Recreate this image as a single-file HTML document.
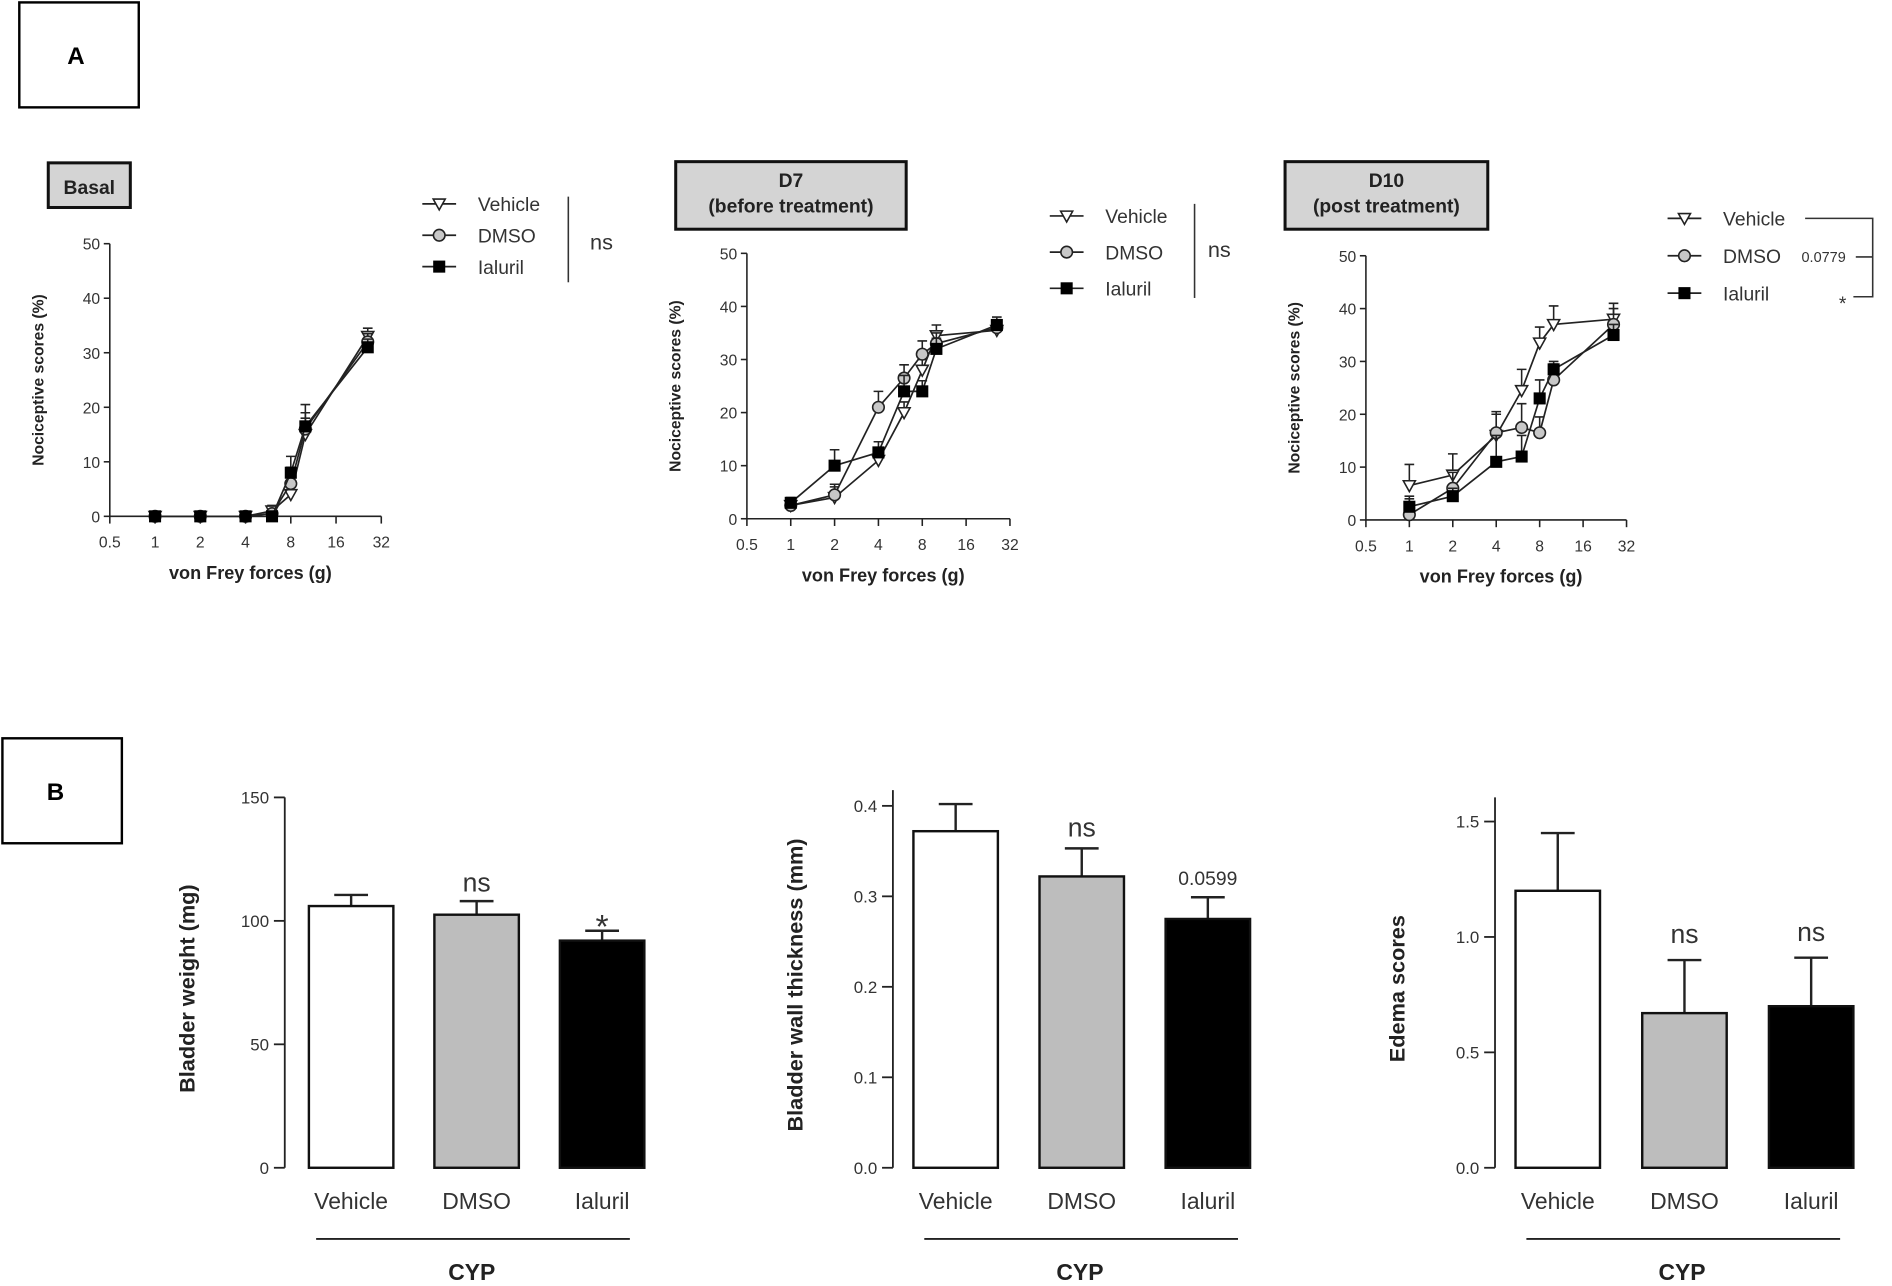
<!DOCTYPE html>
<html><head><meta charset="utf-8"><style>
html,body{margin:0;padding:0;background:#fff;}
svg{display:block;font-family:"Liberation Sans",Arial,sans-serif;}
</style></head><body>
<svg id="fig" width="1892" height="1286" viewBox="0 0 1568 1066" preserveAspectRatio="none">
<rect x="16" y="2" width="99" height="87" fill="#fff" stroke="#000" stroke-width="2"/>
<text x="63" y="53" font-size="20" font-weight="bold" text-anchor="middle">A</text>
<rect x="2" y="612" width="99" height="87" fill="#fff" stroke="#000" stroke-width="2"/>
<text x="46" y="663" font-size="20" font-weight="bold" text-anchor="middle">B</text>
<g id="lines"></g>
<g id="bars"></g>
</svg>
<script>
const forces = [1, 2, 4, 6, 8, 10, 26];
const basalVehicle = [0, 0, 0, 1, 4, 15, 33];
const basalVehicleErr = [0, 0, 0, 1, 1.5, 3, 1.5];
const basalDmso = [0, 0, 0, 0.5, 6, 16, 32];
const basalDmsoErr = [0, 0, 0, 0.5, 3, 3, 1.5];
const basalIaluril = [0, 0, 0, 0, 8, 16.5, 31];
const basalIalurilErr = [0, 0, 0, 0, 3, 4, 1.5];
const d7Vehicle = [2.5, 4, 11, 20, 28, 34.5, 35.5];
const d7VehicleErr = [1, 2, 2, 2, 2, 2, 1.5];
const d7Dmso = [2.5, 4.5, 21, 26.5, 31, 33, 36];
const d7DmsoErr = [1, 2, 3, 2.5, 2.5, 2, 1.5];
const d7Ialuril = [3, 10, 12.5, 24, 24, 32, 36.5];
const d7IalurilErr = [1, 3, 2, 3, 2, 2, 1.5];
const d10Vehicle = [6.5, 8.5, 16, 24.5, 33.5, 37, 38];
const d10VehicleErr = [4, 4, 4.5, 4, 3, 3.5, 3];
const d10Dmso = [1, 6, 16.5, 17.5, 16.5, 26.5, 37];
const d10DmsoErr = [3, 3, 3.5, 4.5, 3, 3, 3];
const d10Ialuril = [2.5, 4.5, 11, 12, 23, 28.5, 35];
const d10IalurilErr = [2, 1.5, 5, 4, 3.5, 1.5, 2];
const xTicks = [0.5, 1, 2, 4, 8, 16, 32];
const yTicksA = [0, 10, 20, 30, 40, 50];

const barCats = ["Vehicle", "DMSO", "Ialuril"];
const weightVals = [106, 102.5, 92];
const weightErr = [4.5, 5.5, 4];
const weightTicks = [0, 50, 100, 150];
const thickVals = [0.372, 0.322, 0.275];
const thickErr = [0.03, 0.031, 0.024];
const thickTicks = [0.0, 0.1, 0.2, 0.3, 0.4];
const edemaVals = [1.2, 0.67, 0.7];
const edemaErr = [0.25, 0.23, 0.21];
const edemaTicks = [0.0, 0.5, 1.0, 1.5];

const NS = "http://www.w3.org/2000/svg";
function mk(parent, tag, attrs, txt) {
  const e = document.createElementNS(NS, tag);
  for (const k in attrs) e.setAttribute(k, attrs[k]);
  if (txt !== undefined) e.textContent = txt;
  parent.appendChild(e);
  return e;
}
const L = document.getElementById('lines');
const B = document.getElementById('bars');

function marker(g, kind, x, y) {
  let m;
  if (kind === 'tri') m = mk(g, 'path', {d: `M${x-5},${y-4} L${x+5},${y-4} L${x},${y+5} Z`, fill: '#fff', stroke: '#222', 'stroke-width': 1.3});
  else if (kind === 'circ') m = mk(g, 'circle', {cx: x, cy: y, r: 4.8, fill: '#c8c8c8', stroke: '#222', 'stroke-width': 1.3});
  else m = mk(g, 'rect', {x: x-5, y: y-5, width: 10, height: 10, fill: '#000'});
  
  
}

function lineChart(cfg) {
  const g = mk(L, 'g', {});
  
  
  const xs = v => cfg.x0 + (Math.log2(v) + 1) * (cfg.x1 - cfg.x0) / 6;
  const ys = v => cfg.y0 - v * (cfg.y0 - cfg.y1) / 50;
  // title box
  const tb = mk(g, 'rect', {x: cfg.tb[0], y: cfg.tb[1], width: cfg.tb[2], height: cfg.tb[3], fill: '#d4d4d4', stroke: '#111', 'stroke-width': 2.5});
  
  
  cfg.title.forEach((t, i) => {
    const tt = mk(g, 'text', {x: cfg.tb[0] + cfg.tb[2]/2, y: cfg.tb[1] + (cfg.title.length === 1 ? 26 : 21 + i*21), 'font-size': 16, 'font-weight': 'bold', 'text-anchor': 'middle', fill: '#222'}, t);
    
    
  });
  // axes
  const ax = mk(g, 'path', {d: `M${cfg.x0},${cfg.y1} V${cfg.y0} H${cfg.x1}`, fill: 'none', stroke: '#222', 'stroke-width': 1.3});
  
  
  yTicksA.forEach(t => {
    mk(g, 'line', {x1: cfg.x0 - 5, x2: cfg.x0, y1: ys(t), y2: ys(t), stroke: '#222', 'stroke-width': 1.3});
    const tl = mk(g, 'text', {x: cfg.x0 - 8, y: ys(t) + 5, 'font-size': 13, 'text-anchor': 'end', fill: '#333'}, t);
    
    
  });
  xTicks.forEach(t => {
    mk(g, 'line', {x1: xs(t), x2: xs(t), y1: cfg.y0, y2: cfg.y0 + 6, stroke: '#222', 'stroke-width': 1.3});
    const tl = mk(g, 'text', {x: xs(t), y: cfg.y0 + 26, 'font-size': 13, 'text-anchor': 'middle', fill: '#333'}, t);
    
    
  });
  const xt = mk(g, 'text', {x: (cfg.x0 + cfg.x1)/2 + 4, y: cfg.y0 + 52, 'font-size': 15, 'font-weight': 'bold', 'text-anchor': 'middle', fill: '#222'}, 'von Frey forces (g)');
  
  
  const cy = (cfg.y0 + cfg.y1)/2;
  const yt = mk(g, 'text', {x: cfg.x0 - 55, y: cy, 'font-size': 13, 'font-weight': 'bold', 'text-anchor': 'middle', fill: '#222', transform: `rotate(-90 ${cfg.x0-55} ${cy})`}, 'Nociceptive scores (%)');
  
  
  // series
  cfg.series.forEach(s => {
    const sg = mk(g, 'g', {});
    
    
    forces.forEach((f, i) => {
      const x = xs(f), top = ys(s.v[i] + s.e[i]);
      if (s.e[i] > 0) {
        mk(sg, 'path', {d: `M${x},${ys(s.v[i])} V${top} M${x-4},${top} H${x+4}`, stroke: '#222', 'stroke-width': 1.3, fill: 'none'});
      }
    });
    const pl = mk(sg, 'polyline', {points: forces.map((f, i) => xs(f) + ',' + ys(s.v[i])).join(' '), fill: 'none', stroke: '#222', 'stroke-width': 1.4});
    
    
    forces.forEach((f, i) => marker(sg, s.kind, xs(f), ys(s.v[i])));
  });
  // legend
  const lg = mk(g, 'g', {});
  
  
  cfg.series.forEach((s, i) => {
    const ly = cfg.leg[1] + i * cfg.leg[2];
    const lx = cfg.leg[0];
    mk(lg, 'line', {x1: lx, x2: lx + 28, y1: ly, y2: ly, stroke: '#222', 'stroke-width': 1.4});
    marker(lg, s.kind, lx + 14, ly);
    const lt = mk(lg, 'text', {x: lx + 46, y: ly + 6, 'font-size': 16, fill: '#333'}, s.label);
    
    
  });
  cfg.extra(lg, cfg.leg);
}

lineChart({name: 'chart-basal', x0: 91, x1: 316, y0: 428, y1: 202, tb: [40, 135, 68, 37], title: ['Basal'],
  leg: [350, 169, 26],
  series: [{label: 'Vehicle', kind: 'tri', v: basalVehicle, e: basalVehicleErr},
           {label: 'DMSO', kind: 'circ', v: basalDmso, e: basalDmsoErr},
           {label: 'Ialuril', kind: 'sq', v: basalIaluril, e: basalIalurilErr}],
  extra: (g) => { mk(g, 'line', {x1: 471, x2: 471, y1: 163, y2: 234, stroke: '#333', 'stroke-width': 1.3});
    const t = mk(g, 'text', {x: 489, y: 207, 'font-size': 18, fill: '#333'}, 'ns');   }});

lineChart({name: 'chart-d7', x0: 619, x1: 837, y0: 430, y1: 210, tb: [560, 134, 191, 56], title: ['D7', '(before treatment)'],
  leg: [870, 179, 30],
  series: [{label: 'Vehicle', kind: 'tri', v: d7Vehicle, e: d7VehicleErr},
           {label: 'DMSO', kind: 'circ', v: d7Dmso, e: d7DmsoErr},
           {label: 'Ialuril', kind: 'sq', v: d7Ialuril, e: d7IalurilErr}],
  extra: (g) => { mk(g, 'line', {x1: 990, x2: 990, y1: 169, y2: 247, stroke: '#333', 'stroke-width': 1.3});
    const t = mk(g, 'text', {x: 1001, y: 213, 'font-size': 18, fill: '#333'}, 'ns');   }});

lineChart({name: 'chart-d10', x0: 1132, x1: 1348, y0: 431, y1: 212, tb: [1065, 134, 168, 56], title: ['D10', '(post treatment)'],
  leg: [1382, 181, 31],
  series: [{label: 'Vehicle', kind: 'tri', v: d10Vehicle, e: d10VehicleErr},
           {label: 'DMSO', kind: 'circ', v: d10Dmso, e: d10DmsoErr},
           {label: 'Ialuril', kind: 'sq', v: d10Ialuril, e: d10IalurilErr}],
  extra: (g) => { mk(g, 'path', {d: 'M1496,181 H1552 V246 H1536 M1538,213 H1552', fill: 'none', stroke: '#333', 'stroke-width': 1.3});
    const t = mk(g, 'text', {x: 1493, y: 217, 'font-size': 12, fill: '#333'}, '0.0779');  
    const s = mk(g, 'text', {x: 1524, y: 257, 'font-size': 16, fill: '#333'}, '*');   }});

function barChart(cfg) {
  const g = mk(B, 'g', {});
  
  
  const max = cfg.ticks[cfg.ticks.length - 1];
  const ys = v => cfg.y0 - v * (cfg.y0 - cfg.yTop) / max;
  const fills = ['#fff', '#bdbdbd', '#000'];
  cfg.vals.forEach((v, i) => {
    const x = cfg.x0 + cfg.first + i * cfg.step;
    const w = 70;
    const et = ys(v + cfg.err[i]);
    mk(g, 'path', {d: `M${x+w/2},${ys(v)} V${et} M${x+w/2-14},${et} H${x+w/2+14}`, stroke: '#222', 'stroke-width': 2, fill: 'none'});
    const r = mk(g, 'rect', {x: x, y: ys(v), width: w, height: cfg.y0 - ys(v), fill: fills[i], stroke: '#111', 'stroke-width': 2});
    
    
    const cl = mk(g, 'text', {x: x + w/2, y: 1002, 'font-size': 19, 'text-anchor': 'middle', fill: '#333'}, barCats[i]);
    
    
    if (cfg.ann[i]) {
      const a = cfg.ann[i];
      const at = mk(g, 'text', {x: x + w/2, y: et - a.off, 'font-size': a.size, 'text-anchor': 'middle', fill: '#333'}, a.t);
      
      
    }
  });
  const ax = mk(g, 'line', {x1: cfg.x0, x2: cfg.x0, y1: cfg.axTop, y2: cfg.y0, stroke: '#222', 'stroke-width': 1.5});
  
  
  cfg.ticks.forEach(t => {
    mk(g, 'line', {x1: cfg.x0 - 9, x2: cfg.x0, y1: ys(t), y2: ys(t), stroke: '#222', 'stroke-width': 1.5});
    const tl = mk(g, 'text', {x: cfg.x0 - 13, y: ys(t) + 5, 'font-size': 14, 'text-anchor': 'end', fill: '#333'}, cfg.fmt(t));
    
    
  });
  const cy = (cfg.y0 + cfg.axTop)/2 + 5;
  const yt = mk(g, 'text', {x: cfg.x0 - 75, y: cy, 'font-size': 18, 'font-weight': 'bold', 'text-anchor': 'middle', fill: '#222', transform: `rotate(-90 ${cfg.x0-75} ${cy})`}, cfg.ytitle);
  
  
  mk(g, 'line', {x1: cfg.x0 + 26, x2: cfg.x0 + 286, y1: 1027, y2: 1027, stroke: '#222', 'stroke-width': 1.5});
  const c = mk(g, 'text', {x: cfg.x0 + 155, y: 1061, 'font-size': 19, 'font-weight': 'bold', 'text-anchor': 'middle', fill: '#222'}, 'CYP');
  
  
}

barChart({name: 'bladder-weight-chart', x0: 236, y0: 968, yTop: 661, axTop: 661, first: 20, step: 104, vals: weightVals, err: weightErr, ticks: weightTicks,
  fmt: t => t, ytitle: 'Bladder weight (mg)', ann: [null, {t: 'ns', size: 22, off: 8}, {t: '*', size: 28, off: -6}]});
barChart({name: 'bladder-thickness-chart', x0: 740, y0: 968, yTop: 668, axTop: 655, first: 17, step: 104.5, vals: thickVals, err: thickErr, ticks: thickTicks,
  fmt: t => t.toFixed(1), ytitle: 'Bladder wall thickness (mm)', ann: [null, {t: 'ns', size: 22, off: 10}, {t: '0.0599', size: 16, off: 10}]});
barChart({name: 'edema-chart', x0: 1239, y0: 968, yTop: 681, axTop: 661, first: 17, step: 105, vals: edemaVals, err: edemaErr, ticks: edemaTicks,
  fmt: t => t.toFixed(1), ytitle: 'Edema scores', ann: [null, {t: 'ns', size: 22, off: 14}, {t: 'ns', size: 22, off: 14}]});
</script>
</body></html>
